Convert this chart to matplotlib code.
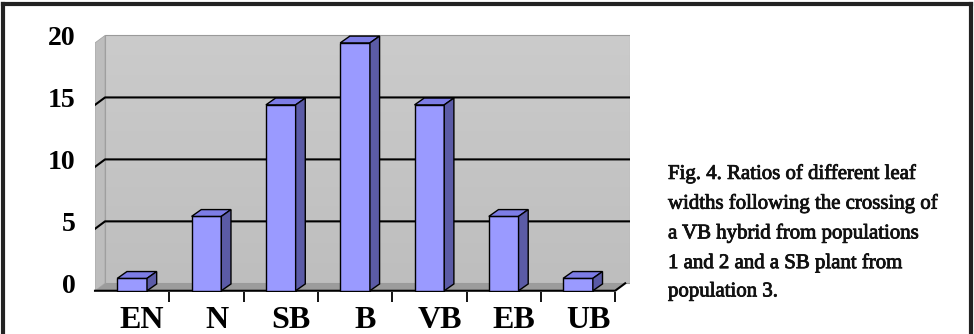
import numpy as np
import matplotlib.pyplot as plt
import matplotlib.patheffects as pe
from matplotlib.colors import LinearSegmentedColormap
from matplotlib.patches import Polygon, Rectangle
from matplotlib.lines import Line2D

categories = ['EN', 'N', 'SB', 'B', 'VB', 'EB', 'UB']
values = [1, 6, 15, 20, 15, 6, 1]
yticks = [0, 5, 10, 15, 20]
caption = ("Fig. 4. Ratios of different leaf\n"
           "widths following the crossing of\n"
           "a VB hybrid from populations\n"
           "1 and 2 and a SB plant from\n"
           "population 3.")

front_col = '#9a9aff'
top_col = '#7d7de6'
side_col = '#5b5ba6'
floor_col = '#9c9c9c'

W, H = 974, 334
fig = plt.figure(figsize=(W / 100, H / 100), dpi=100)
fig.patch.set_facecolor('white')

# axes placed in pixel terms
left, right, bottom, top = 95, 630, 292, 33
ax = fig.add_axes([left / W, 1 - bottom / H, (right - left) / W, (bottom - top) / H])
ax.set_facecolor('white')

x = np.arange(len(categories))
xmin, xmax = -0.5, 6.7
ymin, ymax = -0.7, 20.2
ax.set_xlim(xmin, xmax)
ax.set_ylim(ymin, ymax)

dx, dy = 0.135, 0.6      # depth offset (data units)
bw = 0.40                # bar width
bdx, bdy = 0.13, 0.55    # bar depth

# back wall with soft gradient
grad = np.linspace(0, 1, 100).reshape(-1, 1)
wall_cmap = LinearSegmentedColormap.from_list('w', ['#bebebe', '#cbcbcb'])
ax.imshow(grad, cmap=wall_cmap, extent=[xmin + dx, xmax, 0, 20], aspect='auto',
          origin='lower', zorder=0)
ax.add_patch(Rectangle((xmin + dx, 0), xmax - xmin - dx, 20, fill=False,
                       edgecolor='#9a9a9a', lw=0.8, zorder=1))
# side wall edge
ax.add_patch(Polygon([(xmin, -dy), (xmin + dx, 0), (xmin + dx, 20), (xmin, 20 - dy)],
                     closed=True, facecolor='#bdbdbd', edgecolor='#a5a5a5', lw=0.6, zorder=1))
# floor
ax.add_patch(Polygon([(xmin, -dy), (6.5, -dy), (6.5 + dx, 0), (xmin + dx, 0)],
                     closed=True, facecolor=floor_col, edgecolor='none', zorder=1))

# gridlines on back wall
for t in yticks[1:-1]:
    ax.plot([xmin, xmin + dx, xmax], [t - dy, t, t], color='black', lw=1.5, zorder=2)

# front floor line
ax.plot([xmin, 6.5, 6.5 + dx], [-dy, -dy, 0], color='black', lw=1.5, zorder=2,
        clip_on=False)

# bars (front face + top + side)
bars = ax.bar(x, values, width=bw, bottom=-dy, color=front_col, edgecolor='black',
              linewidth=1.0, zorder=4)
for b in bars:
    x0, x1 = b.get_x(), b.get_x() + b.get_width()
    yt = b.get_y() + b.get_height()
    yb = b.get_y()
    ax.add_patch(Polygon([(x0, yt), (x1, yt), (x1 + bdx, yt + bdy), (x0 + bdx, yt + bdy)],
                         closed=True, facecolor=top_col, edgecolor='black', lw=1.0, zorder=4))
    ax.add_patch(Polygon([(x1, yb), (x1 + bdx, yb + bdy), (x1 + bdx, yt + bdy), (x1, yt)],
                         closed=True, facecolor=side_col, edgecolor='black', lw=1.0, zorder=4))

for s in ax.spines.values():
    s.set_visible(False)

serif = ['Liberation Serif', 'DejaVu Serif']
ax.set_yticks(yticks)
ax.set_yticklabels([str(t) for t in yticks], fontsize=20, fontweight='bold',
                   family=serif)
ax.tick_params(axis='y', length=0, pad=14)

ax.set_xticks(x + dx)
ax.set_xticklabels(categories, fontsize=23, fontweight='bold', family=serif)
ax.set_xticks(np.arange(len(categories)) + 0.5, minor=True)
ax.tick_params(axis='x', which='major', length=0, pad=10)
ax.tick_params(axis='x', which='minor', length=7, width=1.3, direction='out')

# caption
fig.text(668 / W, 1 - 164 / H, caption, ha='left', va='top', fontsize=15,
         family=serif, color='#111111', linespacing=1.66,
         path_effects=[pe.withStroke(linewidth=0.6, foreground='#111111')])

# outer frame
lw = 3
fig.add_artist(Line2D([3 / W, 3 / W], [0, 1 - 4 / H], color='#222222', lw=lw))
fig.add_artist(Line2D([3 / W, 971 / W], [1 - 4 / H, 1 - 4 / H], color='#222222', lw=lw))
fig.add_artist(Line2D([971 / W, 971 / W], [0, 1 - 4 / H], color='#222222', lw=lw))

fig.savefig('out.png', dpi=100, facecolor='white')
